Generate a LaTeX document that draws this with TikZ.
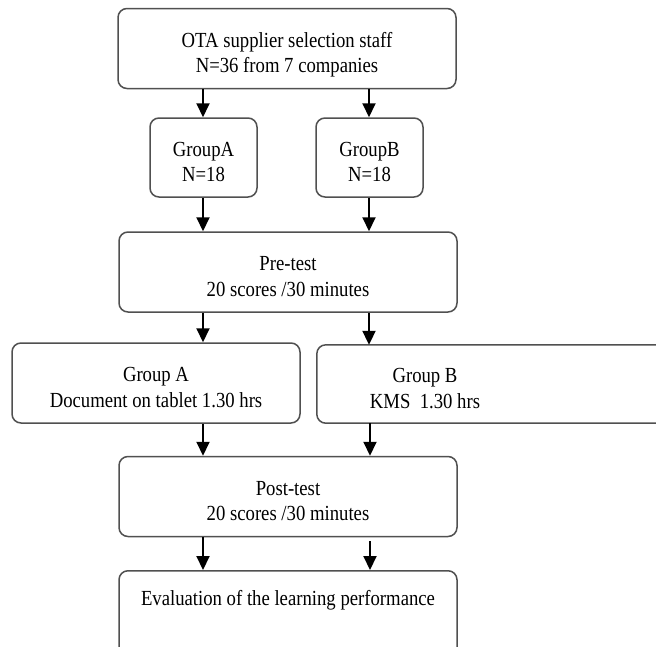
\documentclass[tikz,border=0pt]{standalone}
\usepackage{fontspec}
\setmainfont[FakeStretch=0.87]{Liberation Serif}
\usetikzlibrary{calc,arrows.meta}
\definecolor{boxgray}{RGB}{80,80,80}
\tikzset{%
  stagetext/.style={align=center, inner sep=0pt, text height=50pt, text depth=2pt,
    font=\fontsize{21.5}{25.5}\selectfont},% two lines of text
  stage/.style={stagetext, draw=boxgray, line width=1.5pt, rounded corners=9pt},% rounded step box
  wide/.style={stage, minimum width=338pt, minimum height=80pt},% full-width box
  small/.style={stage, minimum width=107pt, minimum height=79pt},% group box
  flow/.style={line width=2pt, -{Triangle[width=13pt,length=14pt]}}% down arrow
}
\begin{document}
\begin{tikzpicture}[x=1pt, y=-1pt]
\useasboundingbox (0,0) rectangle (656,646);
\clip (0,0) rectangle (656,646);
\coordinate (colA) at (203,0);
\coordinate (colB) at (369,0);

\node[wide] (top) at (287,48.5) {OTA supplier selection staff\\N=36 from 7 companies};
\node[small] (grpA) at (203.5,157.5) {GroupA\\N=18};
\node[small] (grpB) at (369.5,157.5) {GroupB\\N=18};
\node[wide] (pre) at (288,272) {Pre-test\\20 scores /30 minutes};
\node[stage, minimum width=288pt, minimum height=80pt] (docA) at (156,383) {Group A\\Document on tablet 1.30 hrs};
\node[stagetext, minimum width=216pt, minimum height=78pt] (kms) at (425,384) {Group B\\KMS\ \ 1.30 hrs};
\draw[draw=boxgray, line width=1.5pt, rounded corners=9pt]
  (kms.north west) rectangle ($(kms.south west)+(400,0)$);
\node[wide] (post) at (288,496.5) {Post-test\\20 scores /30 minutes};
\node[stage, minimum width=338pt, anchor=north, inner ysep=5pt,
  text height=30pt, text depth=60pt] (eval) at (288,570) {Evaluation of the learning performance};

\draw[flow] (top.south -| colA) -- (grpA.north -| colA);
\draw[flow] (top.south -| colB) -- (grpB.north -| colB);
\draw[flow] (grpA.south -| colA) -- (pre.north -| colA);
\draw[flow] (grpB.south -| colB) -- (pre.north -| colB);
\draw[flow] (pre.south -| colA) -- (docA.north -| colA);
\draw[flow] (pre.south -| colB) -- (kms.north -| colB);
\draw[flow] (docA.south -| colA) -- (post.north -| colA);
\draw[flow] ($(kms.south -| colB)+(1,0)$) -- ($(post.north -| colB)+(1,0)$);
\draw[flow] (post.south -| colA) -- (eval.north -| colA);
\draw[flow] ($(post.south -| colB)+(1,4)$) -- ($(eval.north -| colB)+(1,0)$);
\end{tikzpicture}
\end{document}
